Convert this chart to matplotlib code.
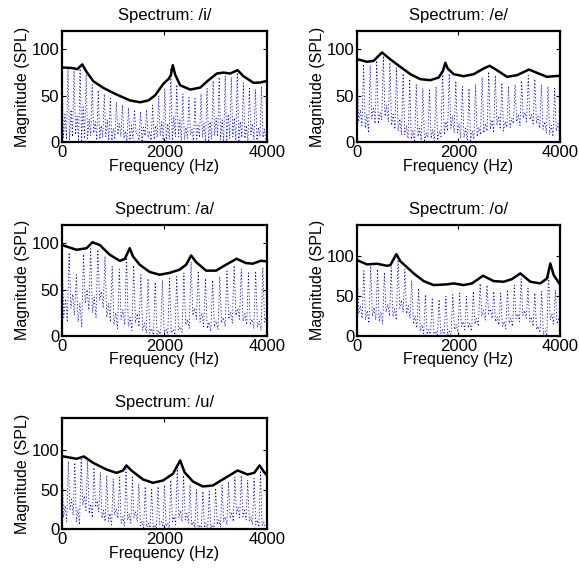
import numpy as np
import matplotlib
matplotlib.use('Agg')
import matplotlib.pyplot as plt

plt.rcParams['font.family'] = ['Liberation Sans', 'DejaVu Sans']

# LPC envelope of each vowel: (frequency in Hz, level in dB SPL)
env_i_freq = [0, 190, 300, 397, 480, 612, 808, 1068, 1329, 1524, 1687, 1818, 1980, 2078, 2124, 2163,
              2208, 2306, 2502, 2697, 2860, 3023, 3153, 3283, 3427, 3544, 3739, 3870, 4000]
env_i_db = [80.5, 80, 78.7, 83.8, 75.8, 65.7, 58.5, 51.3, 45, 43, 45, 50.5, 63, 68, 72, 83,
            73, 61.4, 56.7, 58.8, 66.8, 74, 75, 74, 77.6, 71, 64, 64.3, 66]

env_e_freq = [0, 197, 329, 493, 658, 855, 1053, 1250, 1447, 1612, 1697, 1743, 1789, 1908, 2105,
              2303, 2500, 2618, 2730, 2961, 3158, 3395, 3553, 3750, 3882, 4000]
env_e_db = [89.5, 86.6, 87.7, 96.7, 89.2, 81.2, 73.3, 67.9, 66.8, 69.7, 76.9, 85.6, 79.4, 73.3, 71.1,
            73.3, 79.4, 82.3, 78.7, 70.4, 72.2, 78.3, 74.7, 70.4, 71.1, 71.5]

env_a_freq = [0, 285, 480, 596, 739, 934, 1128, 1226, 1323, 1387, 1517, 1711, 1906, 2100, 2294,
              2424, 2521, 2618, 2813, 3007, 3201, 3409, 3590, 3720, 3882, 4000]
env_a_db = [98, 92.9, 94.6, 101, 98, 87.5, 81, 83, 94.6, 85.7, 76.8, 69, 66, 68, 71.4,
            76.8, 86.8, 79.6, 70.4, 70.4, 76.8, 83.2, 78.6, 77.9, 81, 80.4]

env_o_freq = [0, 197, 395, 592, 658, 776, 855, 954, 1118, 1316, 1513, 1776, 1908, 2105, 2270,
              2487, 2697, 2895, 3059, 3224, 3421, 3618, 3750, 3816, 3882, 4000]
env_o_db = [95.4, 90, 90.8, 88.3, 89, 102.9, 94, 88.3, 78.7, 69, 64, 64.9, 66.1, 64, 66.1,
            75.7, 69, 68.2, 71.5, 78.7, 68.2, 66.1, 72.4, 91.2, 76.6, 65.3]

env_u_freq = [0, 285, 428, 609, 869, 1063, 1193, 1258, 1355, 1582, 1776, 1971, 2165, 2308, 2392,
              2554, 2748, 2943, 3137, 3429, 3623, 3752, 3856, 3947, 4000]
env_u_db = [92.2, 88.9, 91.8, 83.8, 75.4, 71.2, 74.2, 80.5, 74.2, 62.9, 58.7, 61.6, 70, 86.8, 72,
            60.4, 54.1, 55.3, 62.9, 74.2, 69.2, 71.2, 80.5, 72, 67.9]

# FFT spectrum per vowel: fundamental f0 (Hz) and, for each harmonic k*f0 (k = 0, 1, ...),
# the harmonic level, the dip after it, the side lobe mid-way and the dip before the next one
f0_i = 118
harm_i = [78, 79, 77, 81, 73, 62, 56, 52, 47, 43, 40, 37, 35, 33, 35, 40, 50, 58, 80, 62,
          52, 48, 47, 52, 58, 66, 70, 72, 70, 75, 64, 58, 57, 60]
dip_i = [5, 2, 8, 0, 4, 10, 3, 6, 0, 8, 4, 2, 9, 0, 5, 3, 7, 1, 0, 6,
         3, 8, 2, 5, 0, 7, 3, 1, 6, 0, 4, 8, 2, 5]
side_i = [30, 35, 28, 38, 25, 22, 18, 24, 15, 20, 12, 18, 10, 16, 12, 18, 22, 20, 28, 24,
          16, 14, 18, 20, 22, 26, 24, 30, 26, 22, 18, 20, 16, 14]
dip2_i = [3, 6, 1, 4, 7, 2, 5, 0, 3, 6, 1, 4, 0, 7, 2, 5, 0, 3, 6, 2,
          4, 0, 5, 1, 3, 6, 0, 4, 2, 5, 1, 3, 6, 0]

f0_e = 130
harm_e = [86, 84, 83, 88, 93, 86, 80, 74, 68, 62, 58, 56, 60, 80, 74, 66, 60, 58, 62, 70,
          76, 72, 64, 60, 62, 66, 72, 68, 62, 60, 58]
dip_e = [22, 15, 25, 20, 28, 18, 12, 8, 3, 6, 0, 4, 2, 8, 15, 10, 5, 2, 6, 10,
         14, 18, 12, 16, 22, 26, 24, 20, 14, 8, 12]
side_e = [35, 30, 38, 32, 40, 30, 25, 18, 12, 15, 10, 14, 12, 22, 28, 20, 15, 12, 16, 20,
          24, 28, 22, 26, 30, 32, 30, 28, 22, 18, 20]
dip2_e = [18, 10, 20, 24, 22, 14, 8, 4, 0, 2, 5, 1, 6, 12, 10, 4, 0, 3, 8, 12,
          10, 14, 16, 20, 18, 22, 20, 15, 10, 6, 8]

f0_a = 140
harm_a = [96, 90, 66, 88, 94, 93, 86, 75, 72, 88, 76, 66, 62, 58, 60, 62, 64, 68, 80, 70,
          62, 60, 64, 70, 76, 72, 68, 70, 74]
dip_a = [20, 30, 15, 35, 25, 38, 20, 12, 18, 10, 14, 6, 3, 2, 4, 3, 6, 12, 22, 15,
         8, 10, 14, 18, 22, 16, 12, 10, 15]
side_a = [40, 45, 35, 50, 42, 48, 35, 25, 28, 20, 24, 14, 8, 6, 8, 7, 10, 18, 30, 25,
          15, 16, 20, 26, 30, 24, 18, 16, 20]
dip2_a = [15, 22, 10, 28, 20, 30, 15, 8, 12, 6, 10, 3, 1, 0, 2, 1, 4, 8, 18, 10,
          5, 7, 10, 14, 18, 12, 8, 6, 10]

f0_o = 135
harm_o = [93, 82, 88, 84, 80, 86, 98, 84, 70, 60, 52, 48, 46, 50, 52, 54, 50, 56, 66, 64,
          56, 54, 58, 64, 72, 60, 54, 56, 80, 58]
dip_o = [28, 20, 25, 18, 30, 24, 35, 28, 15, 6, 2, 0, 3, 1, 8, 12, 10, 15, 25, 28,
         18, 12, 16, 22, 26, 18, 8, 2, 20, 15]
side_o = [38, 32, 36, 30, 40, 34, 45, 38, 25, 14, 8, 6, 8, 6, 14, 18, 16, 22, 32, 34,
          24, 18, 22, 28, 32, 24, 12, 6, 28, 22]
dip2_o = [22, 16, 20, 15, 25, 20, 30, 22, 10, 3, 0, 1, 0, 2, 5, 8, 6, 12, 20, 22,
          14, 9, 12, 18, 22, 12, 4, 0, 15, 12]

f0_u = 125
harm_u = [90, 86, 84, 88, 86, 78, 72, 68, 64, 66, 76, 66, 58, 54, 52, 54, 56, 62, 80, 68,
          56, 50, 48, 48, 52, 56, 60, 66, 68, 62, 64, 74]
dip_u = [15, 25, 10, 30, 20, 28, 14, 10, 18, 8, 12, 15, 5, 3, 2, 6, 4, 10, 15, 12,
         5, 0, 2, 1, 6, 10, 14, 20, 16, 10, 6, 4]
side_u = [30, 38, 25, 42, 32, 36, 24, 20, 26, 16, 20, 22, 10, 8, 6, 10, 8, 16, 24, 20,
          10, 6, 8, 6, 12, 16, 22, 28, 24, 16, 12, 10]
dip2_u = [10, 18, 6, 24, 15, 22, 10, 6, 14, 4, 8, 10, 2, 0, 1, 3, 2, 6, 10, 8,
          2, 0, 1, 0, 3, 6, 10, 15, 12, 6, 3, 2]

vowels = ['i', 'e', 'a', 'o', 'u']
y_tops = [120, 120, 120, 140, 140]


def spectrum_line(f0, harm, dip, side, dip2):
    # each harmonic period: peak, dip, side lobe, dip
    n = len(harm)
    x = np.arange(4 * n) * f0 / 4.0
    y = np.empty(4 * n)
    y[0::4] = harm
    y[1::4] = dip
    y[2::4] = side
    y[3::4] = dip2
    return x, y


def draw_spectrum(ax, vowel, spec, env_freq, env_db, y_top):
    x, y = spectrum_line(*spec)
    ax.plot(x, y, color='b', linestyle=(0, (1.5, 2.5)), linewidth=0.6)
    ax.plot(env_freq, env_db, color='k', linewidth=1.8)

    ax.set_xlim(0, 4000)
    ax.set_ylim(0, y_top)
    ax.set_xticks([0, 2000, 4000])
    ax.set_yticks([0, 50, 100])
    ax.tick_params(direction='in', length=3, width=0.8, top=True, right=True,
                   labelsize=12, pad=2)
    for spine in ax.spines.values():
        spine.set_linewidth(1.6)

    ax.set_title('Spectrum: /%s/' % vowel, fontsize=12, pad=8)
    ax.set_xlabel('Frequency (Hz)', fontsize=11.5, labelpad=-1)
    ax.set_ylabel('Magnitude (SPL)', fontsize=11.5, labelpad=1)


fig = plt.figure(figsize=(5.79, 5.71), dpi=100)

positions = [
    [0.107, 0.751, 0.354, 0.195],
    [0.6166, 0.751, 0.35, 0.195],
    [0.107, 0.4116, 0.354, 0.195],
    [0.6166, 0.4116, 0.35, 0.195],
    [0.107, 0.0727, 0.354, 0.195],
]

spectra = [
    (f0_i, harm_i, dip_i, side_i, dip2_i),
    (f0_e, harm_e, dip_e, side_e, dip2_e),
    (f0_a, harm_a, dip_a, side_a, dip2_a),
    (f0_o, harm_o, dip_o, side_o, dip2_o),
    (f0_u, harm_u, dip_u, side_u, dip2_u),
]
envelopes = [
    (env_i_freq, env_i_db),
    (env_e_freq, env_e_db),
    (env_a_freq, env_a_db),
    (env_o_freq, env_o_db),
    (env_u_freq, env_u_db),
]

for pos, vowel, y_top, spec, (env_freq, env_db) in zip(positions, vowels, y_tops, spectra, envelopes):
    ax = fig.add_axes(pos)
    draw_spectrum(ax, vowel, spec, env_freq, env_db, y_top)

fig.savefig('out.png', dpi=100)
